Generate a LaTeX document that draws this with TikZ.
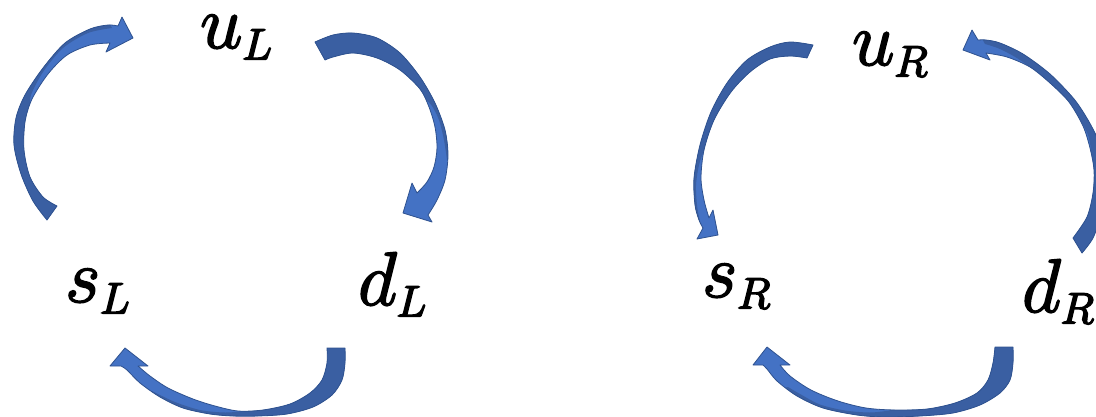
\documentclass[tikz,border=0pt]{standalone}
\usepackage{graphicx}
\DeclareMathSizes{24.88}{24.88}{14.4}{12}
\definecolor{ribbonfront}{HTML}{4472C4}
\definecolor{ribbonback}{HTML}{3A5FA2}
\definecolor{ribbonrim}{HTML}{2F528F}

\tikzset{
  quark/.style={anchor=base west, inner sep=0pt, font=\Huge},
  rim/.style={draw=ribbonrim, line width=0.8pt, line join=round}
}
% large math label, glyphs filled and stroked for a heavier weight
\newcommand\bigmath[1]{\scalebox{3.05}{\special{pdf:literal direct 2 Tr 0.55 w}$#1$\special{pdf:literal direct 0 Tr}}}

% Twisted ribbon arrow:
% #1 outer edge from tail to head, #2 head (barb -- tip -- barb),
% #3 inner edge from head back to tail, #4 closed path of the shaded (back) face.
\newcommand\twistarrow[4]{%
  \begin{scope}
    \clip plot[smooth] coordinates {#1} -- #2 -- plot[smooth] coordinates {#3} -- cycle;
    \fill[ribbonfront] (-20,-20) rectangle (1120,440);
    \fill[ribbonback] #4;
  \end{scope}
  \path[rim] plot[smooth] coordinates {#1} -- #2 -- plot[smooth] coordinates {#3} -- cycle;
}

\begin{document}
\begin{tikzpicture}[x=1pt, y=-1pt]
\useasboundingbox (0,0) rectangle (1096,416);

% left cycle
\node[quark] (uL) at (200,48) {\bigmath{u_L}};
\node[quark] (sL) at (65,302) {\bigmath{s_L}};
\node[quark] (dL) at (358,305) {\bigmath{d_L}};

% s_L -> u_L
\twistarrow
  {(47,220) (33,201) (21,174) (14,145) (16,118) (25,95) (43,68) (65,43) (90,29) (108,25) (118,26)}
  {(122,17) -- (133,38) -- (106,52)}
  {(110,43) (90,45) (67,55) (48,74) (32,99) (25,122) (24,150) (30,177) (43,197) (57,206)}
  {plot[smooth] coordinates {(30,108) (31,95) (43,72) (63,48) (88,33) (112,28)}
   -- (105,14) -- (40,28) -- (0,100) -- (0,235) -- (62,238) -- (75,205) -- (45,150) -- (45,112) -- cycle}

% u_L -> d_L
\twistarrow
  {(315,42) (333,35) (353,33) (377,38) (400,53) (420,77) (435,103) (445,130) (448,155) (445,180) (437,200) (428,215)}
  {(432,222) -- (403,213) -- (412,183)}
  {(417,193) (427,182) (434,167) (437,148) (435,127) (429,107) (420,89) (400,70) (377,58) (353,53) (333,57) (325,60)}
  {plot[smooth] coordinates {(426,100) (432,106) (439,120) (444,140) (447,160)}
   -- (458,162) -- (462,20) -- (305,20) -- (300,50) -- (318,72) -- (390,84) -- (414,101) -- cycle}

% d_L -> s_L
\twistarrow
  {(345,348) (345,363) (342,380) (332,395) (313,407) (287,414) (258,416) (233,416) (210,414) (183,408) (160,397) (140,383) (127,370) (121,366)}
  {(110,366) -- (125,348) -- (148,366)}
  {(138,366) (150,376) (168,388) (193,399) (215,406) (238,411) (263,410) (290,404) (310,393) (322,380) (327,363) (327,348)}
  {plot[smooth] coordinates {(246,411) (225,412.5) (200,410) (175,402) (152,391)}
   -- (140,395) -- (150,425) -- (360,425) -- (360,340) -- (320,340) -- (318,370) -- (295,395) -- (250,405) -- cycle}

% right cycle
\node[quark] (uR) at (852,65) {\bigmath{u_R}};
\node[quark] (sR) at (702,297) {\bigmath{s_R}};
\node[quark] (dR) at (1022,312) {\bigmath{d_R}};

% u_R -> s_R
\twistarrow
  {(813,45) (790,42) (770,47) (747,60) (727,83) (711,112) (700,145) (694,178) (695,205) (699,220) (703,228)}
  {(697,239) -- (718,235) -- (713,210)}
  {(709,218) (704,200) (701,178) (704,150) (714,120) (731,92) (750,72) (770,59) (790,56) (807,58)}
  {plot[smooth] coordinates {(704,150) (699,165) (696,185) (697,205) (700,222)}
   -- (688,225) -- (680,150) -- (700,30) -- (830,30) -- (830,60) -- (800,70) -- (760,80) -- (735,105) -- (718,140) -- (712,150) -- cycle}

% d_R -> u_R
\twistarrow
  {(1082,253) (1093,238) (1101,215) (1105,190) (1104,163) (1098,140) (1088,120) (1074,99) (1050,74) (1023,54) (1000,43) (986,40) (978,40)}
  {(972,30) -- (963,50) -- (990,60)}
  {(986,53) (1007,57) (1030,67) (1050,83) (1069,102) (1083,126) (1090,148) (1094,170) (1093,193) (1087,217) (1073,238)}
  {plot[smooth] coordinates {(1091,150) (1088,135) (1079,118) (1064,98) (1045,79) (1020,60) (1000,49) (985,44)}
   -- (980,35) -- (990,25) -- (1110,25) -- (1110,260) -- (1090,262) -- (1070,245) -- (1083,215) -- (1086,170) -- (1084,150) -- cycle}

% d_R -> s_R
\twistarrow
  {(1013,347) (1013,363) (1010,380) (1000,393) (980,405) (953,413) (920,416) (885,417) (857,415) (823,408) (797,396) (777,381) (767,369) (763,365)}
  {(753,365) -- (767,347) -- (790,365)}
  {(780,365) (790,376) (811,390) (838,401) (866,408) (895,410) (927,409) (955,403) (977,393) (988,380) (993,363) (995,347)}
  {plot[smooth] coordinates {(890,410.5) (870,412.5) (845,410.5) (820,404.5) (800,394) (788,387)}
   -- (775,390) -- (780,425) -- (1030,425) -- (1030,338) -- (985,338) -- (985,375) -- (970,392) -- (930,402) -- (890,404) -- cycle}
\end{tikzpicture}
\end{document}
